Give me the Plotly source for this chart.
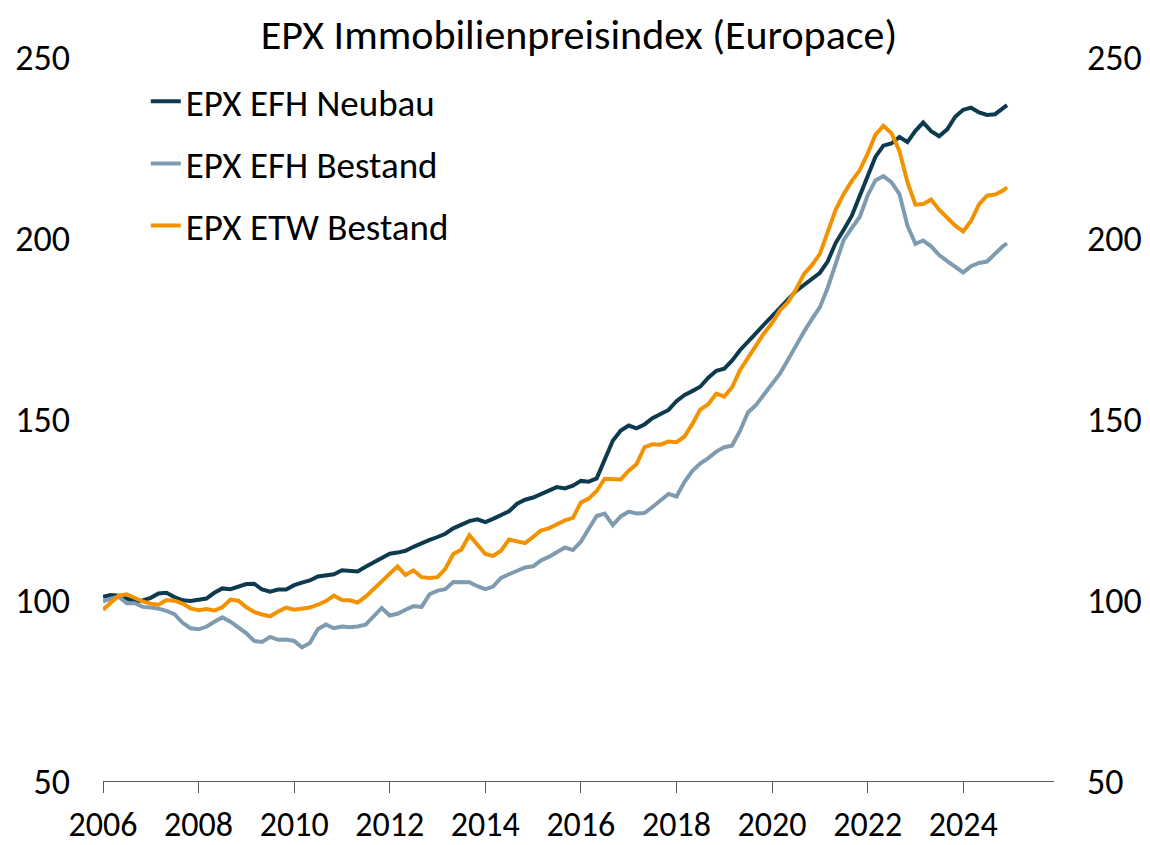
import pandas as pd
import plotly.graph_objects as go

# bimonthly readings 2006-01 .. 2024-11, plus the last month 2024-12
dates = list(pd.date_range("2006-01-01", "2024-11-01", freq="2MS")) + [pd.Timestamp("2024-12-01")]

efh_neubau = [
    100.9, 101.4, 101.2, 100.4, 99.6, 99.9, 100.6, 101.8, 102.0, 100.8, 99.9, 99.7,
    100.1, 100.4, 102.0, 103.2, 103.0, 103.6, 104.4, 104.5, 102.9, 102.3, 102.9, 102.9,
    104.1, 104.8, 105.4, 106.5, 106.9, 107.1, 108.2, 108.1, 107.9, 109.2, 110.5, 111.8,
    112.8, 113.1, 113.6, 114.7, 115.8, 116.6, 117.4, 118.3, 119.8, 120.7, 121.8, 122.3,
    121.5, 122.4, 123.4, 124.5, 126.6, 127.7, 128.3, 129.3, 130.2, 131.2, 130.8, 131.6,
    132.9, 132.7, 133.6, 138.5, 144.0, 146.8, 148.2, 147.4, 148.5, 150.2, 151.4, 152.5,
    154.9, 156.6, 157.7, 158.9, 161.4, 163.3, 163.9, 166.1, 169.0, 171.2, 173.7, 176.1,
    178.3, 180.7, 183.0, 185.3, 187.0, 188.5, 190.4, 193.5, 198.6, 202.2, 206.1, 211.6,
    217.0, 222.4, 225.5, 226.1, 227.9, 226.5, 229.6, 231.9, 229.5, 228.1, 230.0, 233.5,
    235.4, 236.0, 234.7, 234.0, 234.2, 236.1, 236.7,
]

efh_bestand = [
    99.6, 100.4, 100.9, 99.1, 99.1, 98.1, 97.9, 97.6, 97.0, 96.1, 93.7, 92.2,
    91.9, 92.6, 94.0, 95.2, 94.0, 92.5, 90.8, 88.7, 88.4, 89.8, 89.0, 89.1,
    88.7, 86.9, 88.1, 91.9, 93.2, 92.2, 92.7, 92.5, 92.7, 93.2, 95.4, 97.8,
    95.7, 96.2, 97.3, 98.3, 98.1, 101.6, 102.6, 103.0, 105.0, 105.0, 104.9, 103.8,
    103.0, 103.7, 106.1, 107.1, 108.0, 109.0, 109.3, 110.9, 111.9, 113.2, 114.5, 113.8,
    116.1, 119.7, 123.2, 123.9, 120.7, 123.1, 124.4, 123.9, 124.0, 125.7, 127.7, 129.3,
    128.6, 132.5, 135.6, 137.7, 139.2, 141.0, 142.2, 142.6, 146.7, 151.8, 153.9, 156.8,
    159.3, 162.5, 166.3, 170.3, 174.1, 177.6, 180.9, 186.2, 192.8, 199.4, 202.7, 205.8,
    211.8, 215.9, 217.1, 215.4, 212.1, 203.4, 198.4, 199.3, 197.7, 195.3, 193.6, 191.9,
    190.5, 192.2, 193.1, 193.5, 195.7, 197.8, 198.5,
]

etw_bestand = [
    97.3, 99.3, 101.2, 101.6, 100.6, 99.6, 99.0, 98.7, 100.0, 99.8, 99.0, 97.7,
    97.2, 97.5, 97.1, 98.0, 100.1, 99.8, 98.0, 96.7, 96.0, 95.5, 96.8, 97.9,
    97.3, 97.5, 97.9, 98.7, 99.7, 101.2, 100.0, 99.9, 99.3, 100.9, 103.1, 105.0,
    107.2, 109.3, 106.9, 108.2, 106.3, 106.1, 106.3, 108.6, 112.7, 113.9, 117.9, 115.5,
    112.7, 112.2, 113.6, 116.7, 116.2, 115.7, 117.4, 119.2, 119.8, 120.9, 122.0, 122.7,
    126.9, 128.0, 130.1, 133.5, 133.3, 133.3, 135.7, 137.5, 142.2, 143.0, 142.9, 143.8,
    143.6, 145.1, 148.5, 152.6, 154.1, 157.0, 156.2, 158.7, 163.5, 166.8, 170.1, 173.7,
    176.5, 180.0, 182.2, 185.7, 190.0, 192.5, 195.6, 201.7, 207.8, 212.1, 215.7, 218.7,
    223.3, 228.5, 231.0, 229.0, 224.0, 215.4, 209.2, 209.4, 210.6, 207.8, 205.5, 203.4,
    201.8, 204.7, 209.3, 211.7, 212.0, 213.1, 214.0,
]

series_names = ["EPX EFH Neubau", "EPX EFH Bestand", "EPX ETW Bestand"]
series_colors = ["#0e3a4f", "#7f9bb0", "#f39200"]
y_ticks = [50, 100, 150, 200, 250]

FONT = "Carlito, Lato, sans-serif"

fig = go.Figure()
for i, (name, vals, col) in enumerate(zip(series_names, [efh_neubau, efh_bestand, etw_bestand], series_colors)):
    fig.add_trace(go.Scatter(x=dates, y=vals, name=name, mode="lines",
                             line=dict(color=col, width=4), legendgroup=f"g{i}"))

# invisible trace so the right-hand axis gets drawn
fig.add_trace(go.Scatter(x=dates[:1], y=efh_neubau[:1], yaxis="y2", mode="lines",
                         line=dict(width=0), showlegend=False, hoverinfo="skip"))

# the page body has an 8px margin, so the figure is a bit smaller than the window
fig.update_layout(
    width=1142, height=837,
    paper_bgcolor="white", plot_bgcolor="white",
    font=dict(family=FONT, size=36, color="#000000"),
    title=dict(text="EPX Immobilienpreisindex (Europace)", x=0.5, xanchor="center",
               y=0.969, yanchor="middle", font=dict(size=42)),
    margin=dict(l=95, r=96, t=49, b=64, autoexpand=False),
    showlegend=True,
    legend=dict(x=0.045, y=0.981, xanchor="left", yanchor="top",
                bgcolor="rgba(0,0,0,0)", font=dict(size=37), tracegroupgap=11),
    xaxis=dict(type="date", range=["2006-01-01", "2025-11-25"],
               tick0="2006-01-01", dtick="M24", tickformat="%Y",
               showgrid=False, zeroline=False, showline=True, linecolor="#595959", linewidth=1.3,
               ticks="outside", ticklen=11, tickcolor="#595959", tickwidth=1.3,
               ticklabelstandoff=2, tickfont=dict(size=34), automargin=False),
    yaxis=dict(range=[50, 250], tickvals=y_ticks, showgrid=False, zeroline=False,
               showline=False, ticks="", ticklabelstandoff=32, automargin=False),
    yaxis2=dict(range=[50, 250], tickvals=y_ticks, overlaying="y", side="right",
                showgrid=False, zeroline=False, showline=False, ticks="", ticklabelstandoff=32,
                automargin=False),
)

fig.write_html("out.html")
